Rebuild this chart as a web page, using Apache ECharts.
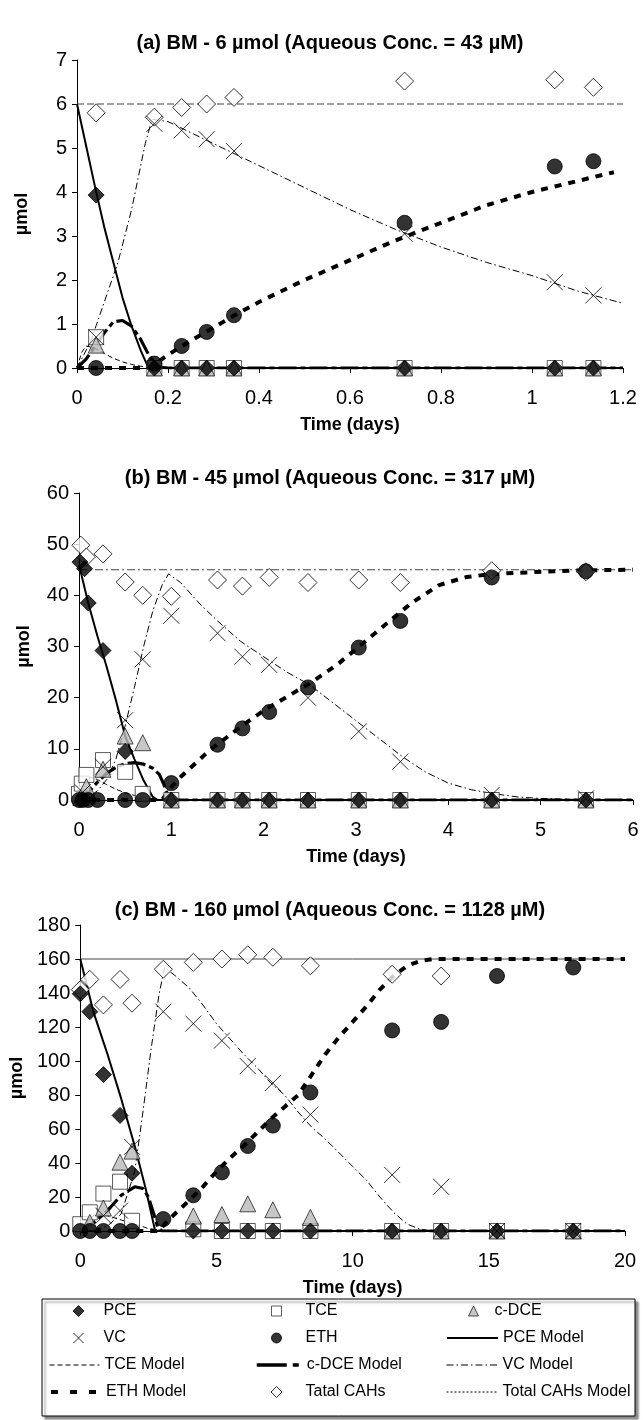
<!DOCTYPE html>
<html>
<head>
<meta charset="utf-8">
<script src="https://cdn.jsdelivr.net/npm/echarts@6/dist/echarts.min.js"></script>
<style>
html,body{margin:0;padding:0;background:#fff;}
#chart{width:643px;height:1420px;}
</style>
</head>
<body>
<div id="chart"></div>
<script>
// ---------- Titles ----------
const panelTitles = [
  '(a) BM - 6 µmol (Aqueous Conc. = 43 µM)',
  '(b) BM - 45 µmol (Aqueous Conc. = 317 µM)',
  '(c) BM - 160 µmol (Aqueous Conc. = 1128 µM)'
];
const xAxisName = 'Time (days)';
const yAxisName = 'µmol';

// ---------- Axis ranges ----------
const xRanges = [[0, 1.2, 0.2], [0, 6, 1], [0, 20, 5]];
const yRanges = [[0, 7, 1], [0, 60, 10], [0, 180, 20]];

// ---------- Panel (a) measured data [time, µmol] ----------
const pceA = [[0.042,3.93],[0.17,0],[0.23,0],[0.285,0],[0.345,0],[0.72,0],[1.05,0],[1.135,0]];
const tceA = [[0.042,0.7],[0.17,0],[0.23,0],[0.285,0],[0.345,0],[0.72,0],[1.05,0],[1.135,0]];
const dceA = [[0.042,0.52],[0.17,0],[0.23,0],[0.285,0],[0.345,0],[0.72,0],[1.05,0],[1.135,0]];
const vcA  = [[0.042,0.7],[0.17,5.55],[0.23,5.4],[0.285,5.2],[0.345,4.93],[0.72,3.05],[1.05,1.95],[1.135,1.65]];
const ethA = [[0.042,0],[0.17,0.1],[0.23,0.5],[0.285,0.82],[0.345,1.2],[0.72,3.3],[1.05,4.58],[1.135,4.7]];
const totA = [[0.042,5.8],[0.17,5.7],[0.23,5.92],[0.285,6.0],[0.345,6.15],[0.72,6.52],[1.05,6.55],[1.135,6.38]];

// ---------- Panel (a) model curves ----------
const pceModelA = [[0,6],[0.02,5.05],[0.04,4.1],[0.06,3.2],[0.08,2.4],[0.1,1.6],[0.12,0.95],[0.14,0.4],[0.155,0.05],[0.17,0],[1.2,0]];
const tceModelA = [[0,0],[0.01,0.35],[0.02,0.5],[0.04,0.45],[0.06,0.33],[0.08,0.22],[0.1,0.14],[0.12,0.08],[0.14,0.04],[0.16,0.01],[0.2,0],[1.2,0]];
const dceModelA = [[0,0],[0.02,0.2],[0.04,0.5],[0.06,0.8],[0.08,1.05],[0.1,1.08],[0.12,0.95],[0.14,0.65],[0.16,0.25],[0.18,0.02],[0.2,0],[1.2,0]];
const vcModelA  = [[0,0],[0.03,0.6],[0.06,1.5],[0.09,2.4],[0.12,3.6],[0.15,5.1],[0.165,5.65],[0.2,5.6],[0.25,5.35],[0.3,5.1],[0.35,4.85],[0.4,4.6],[0.5,4.1],[0.6,3.6],[0.7,3.15],[0.8,2.75],[0.9,2.4],[1.0,2.1],[1.1,1.75],[1.2,1.47]];
const ethModelA = [[0,0],[0.15,0],[0.17,0.08],[0.2,0.3],[0.25,0.62],[0.3,0.92],[0.35,1.22],[0.4,1.5],[0.5,2.0],[0.6,2.45],[0.7,2.9],[0.8,3.3],[0.9,3.7],[1.0,4.0],[1.1,4.25],[1.18,4.45]];
const totModelA = [[0,6],[1.2,6]];

// ---------- Panel (b) measured data ----------
const pceB = [[0.01,46.5],[0.06,45.2],[0.1,38.5],[0.26,29.2],[0.5,9.5],[1.0,0],[1.5,0],[1.77,0],[2.06,0],[2.48,0],[3.03,0],[3.48,0],[4.47,0],[5.49,0]];
const tceB = [[0.0,1.2],[0.03,3.2],[0.08,4.9],[0.26,7.8],[0.5,5.5],[0.69,1.2],[1.0,0],[1.5,0],[1.77,0],[2.06,0],[2.48,0],[3.03,0],[3.48,0],[4.47,0],[5.49,0]];
const dceB = [[0.02,0.5],[0.08,2.6],[0.26,6],[0.5,12.5],[0.69,11.2],[1.0,0],[1.5,0],[1.77,0],[2.06,0],[2.48,0],[3.03,0],[3.48,0],[4.47,0],[5.49,0]];
const vcB  = [[0.04,1.5],[0.26,6.5],[0.5,15.6],[0.69,27.5],[1.0,36],[1.5,32.6],[1.77,28],[2.06,26.4],[2.48,20],[3.03,13.4],[3.48,7.5],[4.47,1],[5.49,0.3]];
const ethB = [[0.0,0],[0.04,0],[0.1,0],[0.2,0],[0.5,0],[0.69,0],[1.0,3.3],[1.5,10.8],[1.77,14],[2.06,17.2],[2.48,22],[3.03,29.8],[3.48,35],[4.47,43.5],[5.49,44.7]];
const totB = [[0.02,49.8],[0.08,47.5],[0.26,48.1],[0.5,42.6],[0.69,40],[1.0,39.8],[1.5,43],[1.77,41.8],[2.06,43.5],[2.48,42.5],[3.03,43],[3.48,42.5],[4.47,44.8],[5.49,44.6]];

// ---------- Panel (b) model curves ----------
const pceModelB = [[0,46],[0.1,38.5],[0.2,32],[0.3,26],[0.4,19.5],[0.5,12.5],[0.6,8],[0.7,3.8],[0.8,0.6],[0.85,0],[6,0]];
const tceModelB = [[0,0],[0.05,3],[0.12,4.5],[0.2,4],[0.3,3],[0.4,2.1],[0.5,1.4],[0.6,0.9],[0.7,0.5],[0.8,0.2],[0.9,0.05],[1,0],[6,0]];
const dceModelB = [[0,0],[0.1,1.5],[0.2,3.5],[0.3,5.2],[0.4,6.4],[0.5,7.1],[0.6,7.3],[0.7,7],[0.8,6.2],[0.87,5],[0.92,3],[0.96,1],[1.0,0.2],[1.1,0],[6,0]];
const vcModelB  = [[0,0],[0.1,0.5],[0.2,1.8],[0.3,4],[0.4,8],[0.5,14.5],[0.6,22],[0.7,30],[0.8,37],[0.9,42],[0.97,44.2],[1.1,42.5],[1.3,38.5],[1.5,35],[1.75,31],[2.0,28],[2.25,25],[2.5,22.5],[2.75,19],[3.0,15.5],[3.25,12],[3.5,8.5],[3.75,5.5],[4.0,3.3],[4.25,2],[4.5,1.2],[4.75,0.6],[5.0,0.3],[5.5,0.05],[6,0]];
const ethModelB = [[0,0],[0.9,0],[1.0,2.5],[1.1,4.5],[1.4,9.5],[1.75,14.3],[2.0,17.5],[2.5,22.8],[2.8,26.5],[3.0,29.5],[3.3,34],[3.6,38.5],[3.9,42],[4.2,43.6],[4.5,44.2],[5.0,44.6],[5.5,44.9],[6.0,45]];
const totModelB = [[0,45],[6,45]];

// ---------- Panel (c) measured data ----------
const pceC = [[0,139.5],[0.35,129],[0.85,92],[1.46,68],[1.9,34],[4.15,0],[5.2,0],[6.15,0],[7.07,0],[8.45,0],[11.45,0],[13.25,0],[15.3,0],[18.1,0]];
const tceC = [[0,4],[0.35,11],[0.85,22],[1.46,29],[1.9,6],[4.15,1],[5.2,0],[6.15,0],[7.07,0],[8.45,0],[11.45,0],[13.25,0],[15.3,0],[18.1,0]];
const dceC = [[0.35,5],[0.85,13.5],[1.46,40.5],[1.9,47],[4.15,8.8],[5.2,9.7],[6.15,16],[7.07,12.5],[8.45,8],[11.45,0],[13.25,0],[15.3,0],[18.1,0]];
const vcC  = [[0.85,9],[1.46,12],[1.9,49.5],[3.05,129],[4.15,122],[5.2,112],[6.15,97],[7.07,87],[8.45,68.5],[11.45,33],[13.25,26],[15.3,0],[18.1,0]];
const ethC = [[0,0],[0.35,0],[0.85,0],[1.46,0],[1.9,0],[3.05,7],[4.15,21],[5.2,34.5],[6.15,50],[7.07,62],[8.45,81.5],[11.45,118],[13.25,123],[15.3,150],[18.1,155]];
const totC = [[0,142],[0.35,148],[0.85,133],[1.46,148],[1.9,134],[3.05,154],[4.15,158],[5.2,160],[6.15,162.5],[7.07,161],[8.45,156],[11.45,151],[13.25,150]];

// ---------- Panel (c) model curves ----------
const pceModelC = [[0,160],[0.5,128],[1,104],[1.5,78],[2,50],[2.4,25],[2.75,0],[20,0]];
const tceModelC = [[0,0],[0.3,7],[0.6,10],[1,9],[1.5,6.5],[2,4],[2.5,1.5],[3,0.3],[3.5,0],[20,0]];
const dceModelC = [[0,0],[0.5,5],[1,12],[1.5,21],[2,26],[2.3,25],[2.5,20],[2.7,10],[2.85,2],[3,0],[20,0]];
const vcModelC  = [[0,0],[0.5,0.5],[1,3],[1.5,10],[2,35],[2.3,70],[2.6,107],[2.9,140],[3.1,155],[3.5,150],[4,143],[4.5,133],[5,122],[5.5,113],[6,104],[6.5,96],[7,87],[7.5,80],[8,70],[8.5,61],[9,54],[9.5,46],[10,38],[10.5,30],[11,20],[11.5,11],[12,4],[12.5,1],[13,0],[20,0]];
const ethModelC = [[0,0],[2.9,0],[3.2,6],[3.6,12],[4,18],[4.5,26],[5,35],[5.5,43],[6,50],[6.5,58],[7,66],[7.5,73],[8,80],[8.5,92],[9,104],[9.5,114],[10,123],[10.5,132],[11,142],[11.5,150],[12,156],[12.5,159],[13,160],[20,160]];
const totModelC = [[0,160],[20,160]];

// ---------- Legend labels ----------
const legendNames = ['PCE','TCE','c-DCE','VC','ETH','PCE Model','TCE Model','c-DCE Model','VC Model','ETH Model','Tatal CAHs','Total CAHs Model'];

const measured = [
  {pce:pceA, tce:tceA, dce:dceA, vc:vcA, eth:ethA, tot:totA},
  {pce:pceB, tce:tceB, dce:dceB, vc:vcB, eth:ethB, tot:totB},
  {pce:pceC, tce:tceC, dce:dceC, vc:vcC, eth:ethC, tot:totC}
];
const models = [
  {pce:pceModelA, tce:tceModelA, dce:dceModelA, vc:vcModelA, eth:ethModelA, tot:totModelA},
  {pce:pceModelB, tce:tceModelB, dce:dceModelB, vc:vcModelB, eth:ethModelB, tot:totModelB},
  {pce:pceModelC, tce:tceModelC, dce:dceModelC, vc:vcModelC, eth:ethModelC, tot:totModelC}
];

// ---------- Styling ----------
const FONT = 'Liberation Sans, Arial, sans-serif';
const X_PATH = 'path://M0,0L10,10M10,0L0,10';
const grids = [
  {left:77, top:60, width:546, height:308},
  {left:79, top:493, width:554, height:307},
  {left:77, top:925, width:548, height:306}
];
const titleTops = [28, 463, 895];
const totLineTypes = [[7,3], [8,3,2,3], 'solid'];

const lineStyles = {
  pce: {color:'#000', width:2, type:'solid'},
  tce: {color:'#000', width:1, type:[5,3]},
  dce: {color:'#000', width:3.2, type:[18,4,5,4]},
  vc:  {color:'#000', width:1, type:[7,3,1.5,3]},
  eth: {color:'#000', width:4, type:[7,7]}
};

const option = {
  backgroundColor:'#fff',
  animation:false,
  title: panelTitles.map((t,i)=>({
    text:t, left:325, top:titleTops[i], textAlign:'center',
    textStyle:{fontFamily:FONT, fontWeight:'bold', fontSize:20, color:'#000'}
  })),
  grid: grids,
  xAxis: xRanges.map((r,i)=>({
    type:'value', gridIndex:i, min:r[0], max:r[1], interval:r[2],
    name:xAxisName, nameLocation:'middle', nameGap:48,
    nameTextStyle:{fontFamily:FONT, fontWeight:'bold', fontSize:18, color:'#000'},
    axisLine:{show:true, onZero:false, lineStyle:{color:'#000', width:1}},
    axisTick:{show:true, inside:false, length:5, lineStyle:{color:'#000'}},
    axisLabel:{fontFamily:FONT, fontSize:20, color:'#000', margin:20},
    splitLine:{show:false}
  })),
  yAxis: yRanges.map((r,i)=>({
    type:'value', gridIndex:i, min:r[0], max:r[1], interval:r[2],
    name:yAxisName, nameLocation:'middle', nameGap:46, nameRotate:90,
    nameTextStyle:{fontFamily:FONT, fontWeight:'bold', fontSize:18, color:'#000'},
    axisLine:{show:true, lineStyle:{color:'#000', width:1}},
    axisTick:{show:true, inside:false, length:5, lineStyle:{color:'#000'}},
    axisLabel:{fontFamily:FONT, fontSize:20, color:'#000', margin:10},
    splitLine:{show:false}
  })),
  legend: [],
  graphic: [{
    type:'rect', z:-1, shape:{x:42, y:1299, width:593, height:117},
    style:{fill:'#fff', stroke:'#000', lineWidth:1, shadowColor:'rgba(0,0,0,0.45)', shadowOffsetX:3, shadowOffsetY:3, shadowBlur:2}
  }],
  series: []
};

// model lines first
for (let i=0;i<3;i++){
  const m = models[i];
  option.series.push({
    name:'Total CAHs Model', type:'line', xAxisIndex:i, yAxisIndex:i, symbol:'none', data:m.tot,
    lineStyle:{color:'#444', width:1, type: totLineTypes[i]}, z:1
  });
  [['tce','TCE Model'],['vc','VC Model'],['pce','PCE Model'],['dce','c-DCE Model'],['eth','ETH Model']].forEach(([k,n])=>{
    option.series.push({
      name:n, type:'line', xAxisIndex:i, yAxisIndex:i, symbol:'none', data:m[k],
      lineStyle:lineStyles[k], z:2
    });
  });
}
// measured scatter
const scatterDefs = [
  ['tot','Tatal CAHs', 'diamond', 18, {color:'#fff', borderColor:'#000', borderWidth:1}],
  ['tce','TCE', 'rect', 15, {color:'#fff', borderColor:'#333', borderWidth:1}],
  ['dce','c-DCE', 'triangle', 16, {color:'#b9b9b9', borderColor:'#222', borderWidth:1}],
  ['vc','VC', X_PATH, 16, {color:'rgba(0,0,0,0)', borderColor:'#000', borderWidth:1}],
  ['pce','PCE', 'diamond', 16, {color:'#000', borderColor:'#000', borderWidth:1}],
  ['eth','ETH', 'circle', 15, {color:'#000', borderColor:'#000', borderWidth:1}]
];
for (let i=0;i<3;i++){
  scatterDefs.forEach(([k,n,sym,size,style])=>{
    option.series.push({
      name:n, type:'scatter', xAxisIndex:i, yAxisIndex:i, symbol:sym, symbolSize:size,
      data:measured[i][k], itemStyle:style, z:3, clip:false
    });
  });
}

// legend layout (one component per entry)
const rowY = [1312, 1339, 1366, 1393];
const legendLayout = [
  {name:'PCE', cx:78, tx:103, row:0, s:11},
  {name:'TCE', cx:276, tx:305, row:0, s:10},
  {name:'c-DCE', cx:473, tx:494, row:0, s:10},
  {name:'VC', cx:78, tx:103, row:1, s:10},
  {name:'ETH', cx:276, tx:305, row:1, s:10},
  {name:'PCE Model', left:446, row:1, w:51, line:{color:'#000', width:2, type:'solid'}},
  {name:'TCE Model', left:49, row:2, w:50, line:{color:'#000', width:1, type:[5,3]}},
  {name:'c-DCE Model', left:255, row:2, w:45, line:{color:'#000', width:3.5, type:[30,6,6,6]}},
  {name:'VC Model', left:446, row:2, w:51, line:{color:'#000', width:1, type:[7,3,1.5,3]}},
  {name:'ETH Model', left:49, row:3, w:50, line:{color:'#000', width:4, type:[7,12]}},
  {name:'Tatal CAHs', cx:276, tx:305, row:3, s:11},
  {name:'Total CAHs Model', left:446, row:3, w:51, line:{color:'#000', width:1, type:[2,2]}}
];
legendLayout.forEach(L=>{
  const lg = {
    data:[L.name], top:rowY[L.row]-9, padding:0, selectedMode:false,
    textStyle:{fontFamily:FONT, fontSize:16, color:'#000'}
  };
  if (L.line){
    lg.left = L.left; lg.itemWidth = L.w; lg.itemHeight = 14;
    lg.lineStyle = L.line; lg.itemStyle = {opacity:0};
  } else {
    lg.left = L.cx - L.s/2; lg.itemWidth = L.s; lg.itemHeight = L.s;
    lg.itemStyle = {borderWidth:1};
    const defaultTextX = L.cx + L.s/2 + 5;
    lg.textStyle.padding = [0,0,0,Math.max(0, L.tx - defaultTextX)];
  }
  option.legend.push(lg);
});

const chart = echarts.init(document.getElementById('chart'), null, {renderer:'canvas'});
chart.setOption(option);
</script>
</body>
</html>
